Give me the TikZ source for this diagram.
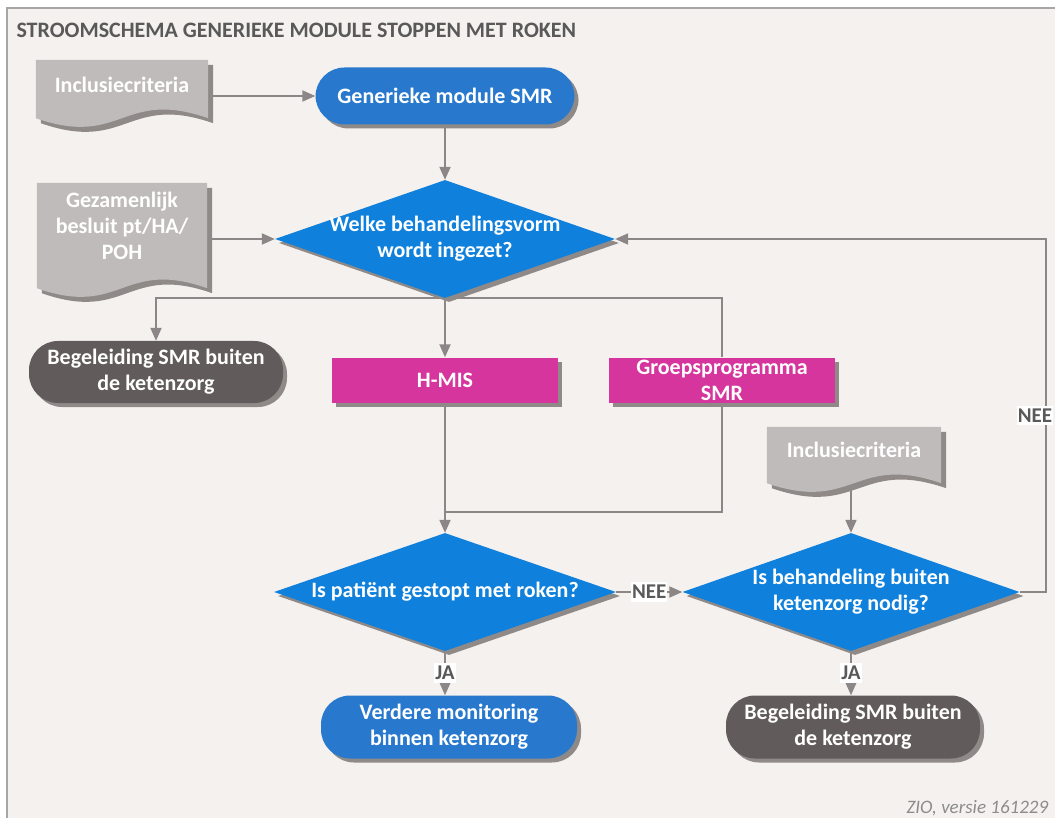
\documentclass[tikz,border=0pt]{standalone}
\usepackage{fontspec}
\setmainfont{Carlito}
\usetikzlibrary{shapes.geometric,arrows.meta,calc,shadows,positioning}

\definecolor{bgc}{HTML}{F4F1EE}
\definecolor{framec}{HTML}{A6A6A6}
\definecolor{titlec}{HTML}{595959}
\definecolor{docc}{HTML}{BFBBBA}
\definecolor{shadowc}{HTML}{8F8A88}
\definecolor{termblue}{HTML}{2879CE}
\definecolor{diamblue}{HTML}{0F80DB}
\definecolor{darkc}{HTML}{625B5B}
\definecolor{magc}{HTML}{D5359C}
\definecolor{linec}{HTML}{8C8786}
\definecolor{footc}{HTML}{8C8C8C}

\pgfdeclarelayer{bg}
\pgfdeclarelayer{conn}
\pgfdeclarelayer{docs}
\pgfsetlayers{bg,conn,docs,main}

% document shape with wavy bottom: node, extension below south, offset
\newcommand{\docpath}[3]{($(#1.north west)+(#3,#3)$) -- ($(#1.north east)+(#3,#3)$) -- ($(#1.south east)+(#3,#2+#3)$) .. controls ($(#1.south)+(#3,#2+#3-30)$) and ($(#1.south)+(#3,#2+#3+30)$) .. ($(#1.south west)+(#3,#2+#3)$) -- cycle}

\tikzset{
  shade4/.style={drop shadow={shadow xshift=4pt,shadow yshift=-4pt,fill=shadowc,opacity=1}},
  txt/.style={text=white,font=\fontsize{22}{26}\selectfont\bfseries,align=center},
  term/.style={rectangle,rounded corners=29pt,fill=termblue,shade4,txt,minimum height=57pt,inner sep=0pt},
  darkterm/.style={term,fill=darkc},
  proc/.style={rectangle,fill=magc,shade4,txt,minimum width=226pt,minimum height=45pt,inner xsep=0pt,inner ysep=-2pt},
  decision/.style={diamond,fill=diamblue,shade4,inner sep=0pt},
  docnode/.style={txt,inner sep=0pt},
  wire/.style={draw=linec,line width=2pt},
  arr/.style={wire,-{Triangle[length=13pt,width=11pt]}},
  lbl/.style={fill=white,text=titlec,font=\fontsize{21}{24}\selectfont\bfseries,inner xsep=1pt,inner ysep=3pt},
}

\begin{document}
\begin{tikzpicture}[x=1pt,y=-1pt]
\useasboundingbox (0,0) rectangle (1055,818);
\begin{pgfonlayer}{bg}
  \fill[white] (0,0) rectangle (1055,818);
  \filldraw[fill=bgc,draw=framec,line width=1.5pt] (7,8) rectangle (1070,830);
\end{pgfonlayer}

\node[anchor=west,text=titlec,font=\fontsize{22}{26}\selectfont\bfseries] (titel) at (13,30) {STROOMSCHEMA GENERIEKE MODULE STOPPEN MET ROKEN};

\node[docnode,minimum width=172pt,minimum height=50pt] (incl1) at (122,85) {Inclusiecriteria};
\node[term,minimum width=259pt] (gen) at (445,96) {Generieke module SMR};
\node[decision,minimum width=340pt,minimum height=118pt,
  label={[txt]center:{Welke behandelingsvorm\\wordt ingezet?}}] (keuze) at (445,239) {};
\node[docnode,minimum width=170pt,minimum height=86pt] (besluit) at (122,226) {Gezamenlijk\\besluit pt/HA/\\POH};

\node[darkterm,minimum width=254pt,minimum height=62pt] (buiten1) at (156,372) {Begeleiding SMR buiten\\de ketenzorg};
\node[proc] (hmis) at (445,380) {H-MIS};
\node[proc] (groep) at (722,380) {Groepsprogramma\\SMR};
\node[docnode,minimum width=174pt,minimum height=46pt] (incl2) at (854,450) {Inclusiecriteria};

\node[decision,minimum width=342pt,minimum height=118pt,
  label={[txt]center:{Is patiënt gestopt met roken?}}] (gestopt) at (445,592) {};
\node[decision,minimum width=337pt,minimum height=118pt,
  label={[txt]center:{Is behandeling buiten\\ketenzorg nodig?}}] (nodig) at (851,592) {};

\node[term,minimum width=256pt,minimum height=63pt] (monitor) at (449,727) {Verdere monitoring\\binnen ketenzorg};
\node[darkterm,minimum width=254pt,minimum height=63pt] (buiten2) at (853,727) {Begeleiding SMR buiten\\de ketenzorg};

\node[anchor=west,text=footc,font=\fontsize{19}{22}\selectfont\itshape] (versie) at (903,808) {ZIO, versie 161229};

\coordinate (samen) at (445,512);
\coordinate (lus) at (1046,239);

\begin{pgfonlayer}{docs}
  \fill[shadowc] \docpath{incl1}{8}{5};
  \fill[docc] \docpath{incl1}{8}{0};
  \fill[shadowc] \docpath{besluit}{19}{5};
  \fill[docc] \docpath{besluit}{19}{0};
  \fill[shadowc] \docpath{incl2}{10}{5};
  \fill[docc] \docpath{incl2}{10}{0};
\end{pgfonlayer}

\begin{pgfonlayer}{conn}
  \draw[arr] (incl1.east |- gen.west) -- (gen.west);
  \draw[arr] (gen.south) -- (keuze.north);
  \draw[arr] (besluit.east |- keuze.west) -- (keuze.west);
  \draw[arr] (keuze.south) -| (buiten1.north);
  \draw[arr] (keuze.south) -- (hmis.north);
  \draw[wire] (keuze.south) -| (groep.north);
  \draw[wire] (groep.south) |- (samen);
  \draw[arr] (hmis.south) -- (gestopt.north);
  \draw[arr] (incl2.south -| nodig.north) -- (nodig.north);
  \draw[arr] (gestopt.east) -- node[lbl]{NEE} (nodig.west);
  \draw[arr] (nodig.east) -| node[lbl,pos=0.75,xshift=-11pt]{NEE} (lus) -- (keuze.east);
  \draw[arr] (gestopt.south) -- node[lbl]{JA} (gestopt.south |- monitor.north);
  \draw[arr] (nodig.south) -- node[lbl]{JA} (nodig.south |- buiten2.north);
\end{pgfonlayer}
\end{tikzpicture}
\end{document}
